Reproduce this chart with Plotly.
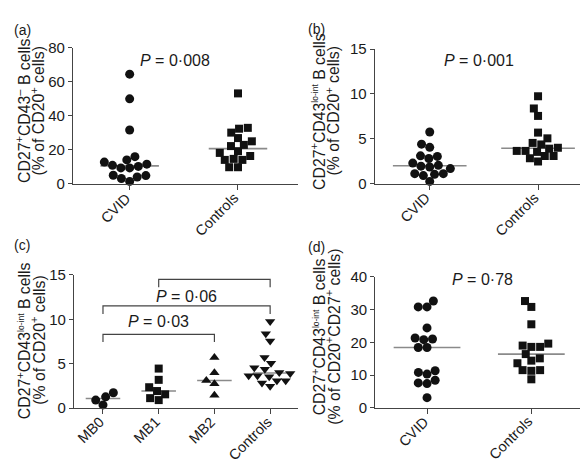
import math
import plotly.graph_objects as go

# ---------------- data ----------------
a_categories = ["CVID", "Controls"]
a_cvid = [64.4, 49.9, 31.6, 16.0, 14.1, 12.8, 11.6, 10.9, 10.3, 9.4, 9.4, 5.1, 4.9, 4.1, 3.2, 1.5]
a_controls = [53.1, 32.9, 32.4, 30.1, 26.9, 25.0, 22.9, 22.2, 19.2, 18.2, 16.4, 14.7, 14.1, 14.1, 9.8, 9.8]
a_p = "<i>P</i> = 0·008"

b_categories = ["CVID", "Controls"]
b_cvid = [5.76, 4.4, 4.05, 3.1, 3.04, 2.8, 2.29, 2.04, 1.95, 1.86, 1.68, 1.11, 1.11, 1.04, 0.9, 0.25]
b_controls = [9.74, 8.38, 7.55, 5.69, 5.05, 4.54, 4.37, 4.0, 3.9, 3.65, 3.65, 3.54, 3.08, 3.08, 2.83, 2.47]
b_p = "<i>P</i> = 0·001"

c_categories = ["MB0", "MB1", "MB2", "Controls"]
c_mb0 = [1.73, 1.27, 0.9, 0.36]
c_mb1 = [4.45, 3.18, 2.35, 1.92, 1.55, 1.12, 0.9]
c_mb2 = [5.71, 3.98, 3.11, 2.74, 1.44]
c_controls = [9.74, 8.38, 7.55, 5.69, 5.05, 4.54, 4.37, 4.0, 3.9, 3.65, 3.65, 3.54, 3.08, 3.08, 2.83, 2.47]
c_comparisons = [("MB0", "MB2", "<i>P</i> = 0·03"),
                 ("MB0", "Controls", "<i>P</i> = 0·06"),
                 ("MB1", "Controls", "<i>P</i> = 0·03")]

d_categories = ["CVID", "Controls"]
d_cvid = [32.6, 30.8, 30.8, 24.4, 21.3, 21.0, 20.8, 18.4, 18.4, 11.3, 10.8, 10.3, 8.4, 7.6, 7.4, 3.1]
d_controls = [32.6, 30.8, 25.5, 19.6, 19.0, 18.6, 18.6, 16.4, 15.1, 14.4, 13.6, 11.5, 11.5, 11.3, 8.7]
d_p = "<i>P</i> = 0·78"

# ---------------- layout constants ----------------
W, H = 588, 463
FONT = "Liberation Sans, Arial, Helvetica, sans-serif"
TXT = "#1a1a1a"
AX = "#444444"
MED = "#8a8a8a"


def px(x):
    return x / W


def py(y):
    return 1 - y / H


def median(v):
    s = sorted(v)
    n = len(s)
    return s[n // 2] if n % 2 else (s[n // 2 - 1] + s[n // 2]) / 2


def swarm(vals, ypx, xpx, d):
    n = len(vals)
    order = sorted(range(n), key=lambda i: vals[i])
    placed = []
    off = [0.0] * n
    for i in order:
        y = vals[i] * ypx
        iv = []
        for xj, yj in placed:
            dy = abs(y - yj)
            if dy < d:
                dx = math.sqrt(d * d - dy * dy)
                iv.append((xj - dx, xj + dx))
        cands = sorted([0.0] + [a for a, b in iv] + [b for a, b in iv], key=lambda c: (abs(c), c))
        chosen = 0.0
        for c in cands:
            if all(not (a + 1e-6 < c < b - 1e-6) for a, b in iv):
                chosen = c
                break
        off[i] = chosen
        placed.append((chosen, y))
    return [o / xpx for o in off]


panels = {
    "a": dict(x0=65, x1=290, yt=31.7, yb=173.3, xr=[-0.523, 1.554], yr=[0, 80], dt=20, hw=0.27),
    "b": dict(x0=366.7, x1=588, yt=33.3, yb=173, xr=[-0.508, 1.535], yr=[0, 15], dt=5, hw=0.34),
    "c": dict(x0=66, x1=290, yt=267.7, yb=406, xr=[-0.52, 3.5], yr=[0, 15], dt=5, hw=0.31),
    "d": dict(x0=367.3, x1=575.7, yt=269.7, yb=405.7, xr=[-0.496, 1.502], yr=[0, 40], dt=10, hw=0.32),
}
axis_ids = {"a": ("x", "y"), "b": ("x2", "y2"), "c": ("x3", "y3"), "d": ("x4", "y4")}

groups = {
    "a": [(a_cvid, "circle", 9), (a_controls, "square", 8)],
    "b": [(b_cvid, "circle", 9), (b_controls, "square", 8)],
    "c": [(c_mb0, "circle", 9), (c_mb1, "square", 8), (c_mb2, "triangle-up", 9),
          (c_controls, "triangle-down", 9)],
    "d": [(d_cvid, "circle", 9), (d_controls, "square", 8)],
}
cats = {"a": a_categories, "b": b_categories, "c": c_categories, "d": d_categories}

fig = go.Figure()
layout = dict(width=W, height=H, margin=dict(l=0, r=0, t=0, b=0),
              paper_bgcolor="white", plot_bgcolor="white", showlegend=False,
              font=dict(family=FONT, color=TXT, size=14))
annotations = []

for key, g in panels.items():
    xa, ya = axis_ids[key]
    xpx = (g["x1"] - g["x0"]) / (g["xr"][1] - g["xr"][0])
    ypx = (g["yb"] - g["yt"]) / (g["yr"][1] - g["yr"][0])
    for ci, (vals, sym, size) in enumerate(groups[key]):
        m = median(vals)
        fig.add_trace(go.Scatter(x=[ci - g["hw"], ci + g["hw"]], y=[m, m], mode="lines",
                                 line=dict(color=MED, width=1.6), xaxis=xa, yaxis=ya,
                                 hoverinfo="skip", cliponaxis=False))
    for ci, (vals, sym, size) in enumerate(groups[key]):
        offs = swarm(vals, ypx, xpx, 8.8)
        fig.add_trace(go.Scatter(x=[ci + o for o in offs], y=vals, mode="markers",
                                 marker=dict(symbol=sym, size=size, color="#111111",
                                             line=dict(width=0)),
                                 xaxis=xa, yaxis=ya, cliponaxis=False))
    # rotated category labels placed just below each tick
    for ci, name in enumerate(cats[key]):
        tx = g["x0"] + (ci - g["xr"][0]) * xpx
        annotations.append(dict(x=px(tx + 7), y=py(g["yb"] + 3), xref="paper", yref="paper",
                                text=name, textangle=-45, showarrow=False,
                                font=dict(size=14.5, color=TXT),
                                xanchor="right", yanchor="top"))
    xname = "xaxis" + xa[1:]
    yname = "yaxis" + ya[1:]
    layout[xname] = dict(domain=[px(g["x0"]), px(g["x1"])], range=g["xr"], anchor=ya,
                         showline=True, linecolor=AX, linewidth=1.2, ticks="outside",
                         ticklen=5, tickcolor=AX, tickwidth=1.2,
                         tickvals=list(range(len(cats[key]))), showticklabels=False,
                         showgrid=False, zeroline=False)
    layout[yname] = dict(domain=[py(g["yb"]), py(g["yt"])], range=g["yr"], anchor=xa,
                         showline=True, linecolor=AX, linewidth=1.2, ticks="outside",
                         ticklen=4, tickcolor=AX, tickwidth=1.2, dtick=g["dt"],
                         showgrid=False, zeroline=False,
                         tickfont=dict(size=15, color=TXT, family=FONT))

# brackets for panel c
bracket_levels = [(8.3, 7.45, 9.7), (11.5, 10.6, 12.6), (14.5, 13.6, 15.6)]
for (c0, c1, label), (top, low, ty) in zip(c_comparisons, bracket_levels):
    i0, i1 = c_categories.index(c0), c_categories.index(c1)
    fig.add_trace(go.Scatter(x=[i0, i0, i1, i1], y=[low, top, top, low], mode="lines",
                             line=dict(color=AX, width=1.2), xaxis="x3", yaxis="y3",
                             hoverinfo="skip", cliponaxis=False))
    annotations.append(dict(x=(i0 + i1) / 2, y=ty, xref="x3", yref="y3", text=label,
                            showarrow=False, font=dict(size=16, color=TXT),
                            xanchor="center", yanchor="middle"))

# P values
for txt, x, y in [(a_p, 167, 45), (b_p, 471, 45), (d_p, 474, 273)]:
    annotations.append(dict(x=px(x), y=py(y), xref="paper", yref="paper", text=txt,
                            showarrow=False, font=dict(size=16, color=TXT),
                            xanchor="center", yanchor="middle"))

# panel letters
for txt, x, y in [("(a)", 14, 13), ("(b)", 308, 12), ("(c)", 14, 237), ("(d)", 308, 239)]:
    annotations.append(dict(x=px(x), y=py(y), xref="paper", yref="paper", text=txt,
                            showarrow=False, font=dict(size=14, color=TXT),
                            xanchor="center", yanchor="middle"))

# y axis titles (two lines each)
LOINT = '<sup><span style="font-size:8.5px">lo-int</span></sup>'
titles = [
    ("CD27<sup>+</sup>CD43<sup>–</sup> B cells", "(% of CD20<sup>+</sup> cells)", 15.5, 30, 98),
    ("CD27<sup>+</sup>CD43" + LOINT + " B cells", "(% of CD20<sup>+</sup> cells)", 310.5, 325, 98),
    ("CD27<sup>+</sup>CD43" + LOINT + " B cells", "(% of CD20<sup>+</sup> cells)", 15.5, 30, 336),
    ("CD27<sup>+</sup>CD43" + LOINT + " B cells", "(% of CD20<sup>+</sup>CD27<sup>+</sup> cells)", 310.5, 325, 332),
]
for l1, l2, x1, x2, yc in titles:
    for t, x in [(l1, x1), (l2, x2)]:
        annotations.append(dict(x=px(x), y=py(yc), xref="paper", yref="paper", text=t,
                                textangle=-90, showarrow=False,
                                font=dict(size=15.8, color=TXT),
                                xanchor="center", yanchor="middle"))

layout["annotations"] = annotations
fig.update_layout(**layout)
fig.write_html("out.html")
